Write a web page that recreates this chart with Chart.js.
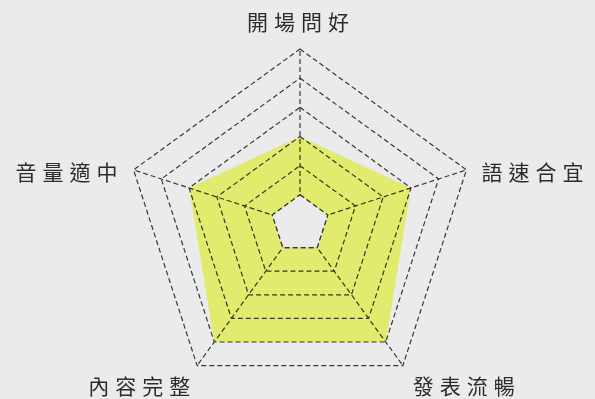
<!DOCTYPE html>
<html>
<head>
<meta charset="utf-8">
<script src="https://cdn.jsdelivr.net/npm/chart.js@4.4.1/dist/chart.umd.min.js"></script>
<style>
  html, body { margin: 0; padding: 0; background: #ebebec; }
  #wrap { width: 595px; height: 399px; position: relative; }
</style>
</head>
<body>
<div id="wrap"><canvas id="c"></canvas></div>
<script>
// ---- data ----
const categories = ['開場問好', '語速合宜', '發表流暢', '內容完整', '音量適中'];
const scores = [3, 4, 5, 5, 4];
const centerRing = [1, 1, 1, 1, 1];   // blank inner pentagon
const scaleMin = 0;
const scaleMax = 6;
const scaleStep = 1;

const BG = '#ebebec';
const LINE = '#383838';

const bgAndLabels = {
  id: 'bgAndLabels',
  beforeDraw(chart) {
    const ctx = chart.ctx;
    ctx.save();
    ctx.fillStyle = BG;
    ctx.fillRect(0, 0, chart.width, chart.height);
    ctx.restore();
  },
  beforeDatasetsDraw(chart) {
    chart.ctx.globalCompositeOperation = 'multiply';
  },
  afterDatasetDraw(chart, args) {
    if (chart.data.datasets[args.index].multiply) {
      chart.ctx.globalCompositeOperation = 'source-over';
    }
  },
  afterDatasetsDraw(chart) {
    chart.ctx.globalCompositeOperation = 'source-over';
  },
  afterDraw(chart) {
    const ctx = chart.ctx;
    const scale = chart.scales.r;
    ctx.save();
    ctx.font = '21px "Noto Sans CJK TC"';
    ctx.letterSpacing = '6px';
    ctx.fillStyle = '#2c2c2c';
    ctx.textBaseline = 'middle';
    chart.data.labels.forEach((t, i) => {
      const a = scale.getIndexAngle(i);
      const p = scale.getPointPosition(i, scale.drawingArea);
      const s = Math.sin(a), c = Math.cos(a);
      let x = p.x, y = p.y, align = 'center';
      if (c > 0.9) {
        y -= 27;
        x += 1;
      } else if (Math.abs(s) > 0.9) {
        align = s > 0 ? 'left' : 'right';
        x += s > 0 ? 15 : -10;
        y += 2;
      } else {
        align = s > 0 ? 'left' : 'right';
        x += s > 0 ? 10 : -1;
        y += 20;
      }
      ctx.textAlign = align;
      ctx.fillText(t, x, y);
    });
    ctx.restore();
  }
};

new Chart(document.getElementById('c'), {
  type: 'radar',
  data: {
    labels: categories,
    datasets: [
      {
        data: centerRing,
        order: 0,
        fill: true,
        backgroundColor: BG,
        borderColor: LINE,
        borderWidth: 1.2,
        borderDash: [5, 3],
        pointRadius: 0
      },
      {
        data: scores,
        order: 1,
        multiply: true,
        fill: true,
        backgroundColor: 'rgb(245,255,118)',
        borderWidth: 0,
        borderColor: 'rgba(0,0,0,0)',
        pointRadius: 0
      }
    ]
  },
  options: {
    responsive: true,
    maintainAspectRatio: false,
    animation: false,
    layout: { padding: { left: 105, right: 100, top: 49, bottom: 0 } },
    plugins: { legend: { display: false }, tooltip: { enabled: false } },
    elements: { line: { tension: 0 } },
    scales: {
      r: {
        min: scaleMin,
        max: scaleMax,
        ticks: { display: false, stepSize: scaleStep },
        pointLabels: { display: false },
        grid: { color: LINE, lineWidth: 1.2 },
        border: { dash: [5, 3] },
        angleLines: { color: LINE, lineWidth: 1.2, borderDash: [5, 3] }
      }
    }
  },
  plugins: [bgAndLabels]
});
</script>
</body>
</html>
